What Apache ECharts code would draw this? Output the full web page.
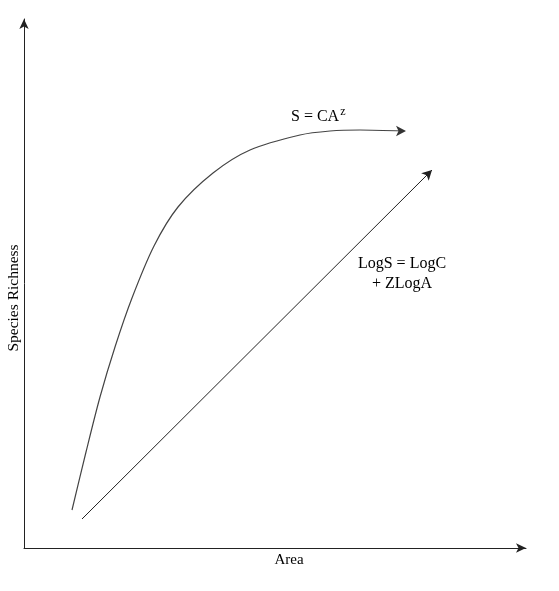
<!DOCTYPE html>
<html>
<head>
<meta charset="utf-8">
<script src="https://cdn.jsdelivr.net/npm/echarts@6/dist/echarts.min.js"></script>
<style>
  html, body { margin: 0; padding: 0; background: #fff; }
  #chart { width: 559px; height: 591px; }
</style>
</head>
<body>
<div id="chart"></div>
<script>
// power curve S = CA^z (area, richness)
var curveArea = [48, 62, 76, 91, 108, 130, 154, 189, 226, 276, 306, 336, 379];
var curveRich = [38, 96, 151, 201, 250, 302, 341, 375, 398, 413, 417, 418, 417];
// log-log straight line, start and end
var lineStart = [58, 29];
var lineEnd = [408, 378];

var font = '"Liberation Serif", "Times New Roman", serif';
var chart = echarts.init(document.getElementById('chart'));

var curveData = curveArea.map(function (a, i) { return [a, curveRich[i]]; });

var option = {
    backgroundColor: '#fff',
    animation: false,
    grid: { left: 24, right: 33, top: 19, bottom: 43, outerBoundsMode: 'none', containLabel: false },
    xAxis: {
        type: 'value',
        min: 0,
        max: 502,
        axisLine: { lineStyle: { color: '#222', width: 1 }, symbol: ['none', 'arrow'], symbolSize: [7, 10] },
        axisTick: { show: false },
        axisLabel: { show: false },
        splitLine: { show: false }
    },
    yAxis: {
        type: 'value',
        min: 0,
        max: 529,
        axisLine: { lineStyle: { color: '#222', width: 1 }, symbol: ['none', 'arrow'], symbolSize: [7, 10] },
        axisTick: { show: false },
        axisLabel: { show: false },
        splitLine: { show: false }
    },
    series: [
        {
            type: 'line',
            smooth: 0.3,
            showSymbol: false,
            data: curveData,
            lineStyle: { color: '#444', width: 1.2 },
            markPoint: {
                symbol: 'arrow',
                symbolSize: [8, 10],
                symbolRotate: -90,
                itemStyle: { color: '#333' },
                label: { show: false },
                data: [{ coord: [curveArea[curveArea.length - 1] + 3, curveRich[curveRich.length - 1]] }]
            }
        },
        {
            type: 'line',
            showSymbol: false,
            data: [],
            markLine: {
                silent: true,
                symbol: ['none', 'arrow'],
                symbolSize: [8, 10],
                label: { show: false },
                lineStyle: { color: '#222', width: 1, type: 'solid' },
                data: [[{ coord: lineStart }, { coord: lineEnd }]]
            }
        }
    ],
    graphic: [
        {
            type: 'text',
            x: 14,
            y: 298,
            rotation: Math.PI / 2,
            style: {
                text: 'Species Richness',
                fontSize: 15.5,
                fontFamily: font,
                fill: '#000',
                align: 'center',
                verticalAlign: 'middle'
            }
        },
        {
            type: 'text',
            x: 289,
            y: 560,
            style: {
                text: 'Area',
                fontSize: 15,
                fontFamily: font,
                fill: '#000',
                align: 'center',
                verticalAlign: 'middle'
            }
        },
        {
            type: 'text',
            left: 291,
            top: 106,
            style: {
                text: '{b|S = CA}{s|z}',
                rich: {
                    b: { fontSize: 16, fontFamily: font, fill: '#000' },
                    s: { fontSize: 12, fontFamily: font, fill: '#000', verticalAlign: 'top', padding: [0, 0, 10, 1] }
                }
            }
        },
        {
            type: 'text',
            x: 402,
            y: 254,
            style: {
                text: 'LogS = LogC\n+ ZLogA',
                align: 'center',
                fontSize: 16,
                lineHeight: 20,
                fontFamily: font,
                fill: '#000'
            }
        }
    ]
};
chart.setOption(option);
</script>
</body>
</html>
